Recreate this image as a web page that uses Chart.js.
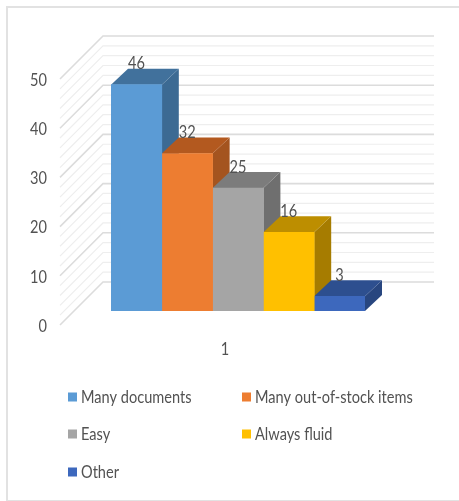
<!DOCTYPE html>
<html>
<head>
<meta charset="utf-8">
<style>
  html, body { margin: 0; padding: 0; background: #fff; overflow: hidden; }
  #wrap { position: relative; width: 459px; height: 501px; overflow: hidden; }
  #frame { position: absolute; left: 6px; top: 6px; width: 470px; height: 492px; border: 2px solid #e2e2e2; }
  canvas { position: absolute; left: 0; top: 0; }
</style>
<script src="https://cdn.jsdelivr.net/npm/chart.js@4"></script>
</head>
<body>
<div id="wrap">
  <div id="frame"></div>
  <canvas id="chart" width="459" height="501"></canvas>
</div>
<script>
const categories = ['1'];
const seriesNames = ['Many documents', 'Many out-of-stock items', 'Easy', 'Always fluid', 'Other'];
const seriesValues = [46, 32, 25, 16, 3];
const frontColors = ['#5b9bd5', '#ed7d31', '#a5a5a5', '#ffc000', '#3d68bd'];
const topColors = ['#41719c', '#b3591f', '#7c7c7c', '#bd8e00', '#2d4f8f'];
const sideColors = ['#3c6a93', '#a4541f', '#6f6f6f', '#a67c00', '#28467f'];

const FONT = 'Lato, "Open Sans", sans-serif';
const TEXT = '#525252';
const SQUEEZE = 0.81;                  // horizontal squeeze for all lettering
const PLOT_TOP = 65;                   // y of the value 50 on the column plane
const DEPTH_X = 17, DEPTH_Y = 16;      // bar extrusion
const WALL_X = 103, WALL_RIGHT = 434;  // back wall extent
const WALL_SHIFT = 29;                 // back wall sits this far above the bar plane
const SIDE_LEFT = 60, SIDE_DROP = 14;  // near end of the side wall

// Paints a scale's labels squeezed horizontally about a fixed x position.
function squeezeLabels(scale, originX) {
  if (scale._squeezed) return;
  scale._squeezed = true;
  const paint = scale.drawLabels;
  scale.drawLabels = function (area) {
    const ctx = scale.ctx;
    ctx.save();
    ctx.translate(originX, 0);
    ctx.scale(SQUEEZE, 1);
    ctx.translate(-originX, 0);
    paint.call(scale, area);
    ctx.restore();
  };
}

function narrowText(ctx, text, x, y) {
  ctx.save();
  ctx.translate(x, y);
  ctx.scale(SQUEEZE, 1);
  ctx.fillText(text, 0, 0);
  ctx.restore();
}

// Pins the top of the value axis and applies the label squeeze.
const axisPlugin = {
  id: 'axisFit',
  afterLayout(chart) {
    const { x, y } = chart.scales;
    y.top = PLOT_TOP;
    y.height = y.bottom - y.top;
    y.configure();
    chart.chartArea.top = PLOT_TOP;
    chart.chartArea.height = y.height;
    squeezeLabels(y, 47);
    squeezeLabels(x, 225);
  }
};

// Back wall and side wall rules, every 2 units with stronger lines every 10.
const wallPlugin = {
  id: 'wall',
  beforeDatasetsDraw(chart) {
    const { ctx, scales: { y } } = chart;
    ctx.save();
    for (let v = 0; v <= y.max; v += 2) {
      const py = y.getPixelForValue(v);
      const major = v % 10 === 0;
      ctx.strokeStyle = major ? '#dcdcdc' : '#eeeeee';
      ctx.lineWidth = major ? 1.6 : 1.2;
      ctx.beginPath();
      ctx.moveTo(SIDE_LEFT, py + SIDE_DROP);
      ctx.lineTo(WALL_X, py - WALL_SHIFT);
      ctx.lineTo(WALL_RIGHT, py - WALL_SHIFT);
      ctx.stroke();
    }
    ctx.restore();
  }
};

// Top and right faces of the columns, left to right, under all front faces.
const depthPlugin = {
  id: 'depth',
  beforeDatasetsDraw(chart) {
    const { ctx } = chart;
    ctx.save();
    chart.data.datasets.forEach((ds, i) => {
      const bar = chart.getDatasetMeta(i).data[0];
      const left = bar.x - bar.width / 2, right = bar.x + bar.width / 2;
      const top = bar.y, base = bar.base;
      ctx.fillStyle = sideColors[i];
      ctx.beginPath();
      ctx.moveTo(right, top);
      ctx.lineTo(right + DEPTH_X, top - DEPTH_Y);
      ctx.lineTo(right + DEPTH_X, base - DEPTH_Y);
      ctx.lineTo(right, base);
      ctx.closePath();
      ctx.fill();
      ctx.fillStyle = topColors[i];
      ctx.beginPath();
      ctx.moveTo(left, top);
      ctx.lineTo(left + DEPTH_X, top - DEPTH_Y);
      ctx.lineTo(right + DEPTH_X, top - DEPTH_Y);
      ctx.lineTo(right, top);
      ctx.closePath();
      ctx.fill();
    });
    ctx.restore();
  }
};

// Value captions above each column and the two-column key below the plot.
const captionPlugin = {
  id: 'captions',
  afterDatasetsDraw(chart) {
    const { ctx } = chart;
    ctx.save();
    ctx.fillStyle = TEXT;
    ctx.font = '18px ' + FONT;
    ctx.textAlign = 'center';
    ctx.textBaseline = 'middle';
    chart.data.datasets.forEach((ds, i) => {
      const bar = chart.getDatasetMeta(i).data[0];
      narrowText(ctx, String(ds.data[0]), bar.x, bar.y - 21);
    });
    const columns = [68, 242], rows = [397, 434, 472];
    ctx.textAlign = 'left';
    chart.data.datasets.forEach((ds, i) => {
      const x = columns[i % 2], y = rows[Math.floor(i / 2)];
      ctx.fillStyle = ds.backgroundColor;
      ctx.fillRect(x, y - 4.5, 9, 9);
      ctx.fillStyle = TEXT;
      narrowText(ctx, ds.label, x + 13, y);
    });
    ctx.restore();
  }
};

new Chart(document.getElementById('chart'), {
  type: 'bar',
  data: {
    labels: categories,
    datasets: seriesNames.map((name, i) => ({
      label: name,
      data: [seriesValues[i]],
      backgroundColor: frontColors[i],
      borderWidth: 0,
      barPercentage: 1,
      categoryPercentage: 1
    }))
  },
  options: {
    responsive: false,
    animation: false,
    layout: { autoPadding: false, padding: { left: 0, right: 94, top: 57, bottom: 140 } },
    plugins: { legend: { display: false }, title: { display: false }, tooltip: { enabled: false } },
    scales: {
      x: {
        grid: { display: false },
        border: { display: false },
        afterFit(scale) { scale.height = 50; },
        ticks: { color: TEXT, font: { family: FONT, size: 18 }, padding: 19, labelOffset: -13, maxRotation: 0 }
      },
      y: {
        min: 0,
        max: 50,
        grid: { display: false },
        border: { display: false },
        afterFit(scale) { scale.width = 111; },
        ticks: { stepSize: 10, color: TEXT, font: { family: FONT, size: 18 }, padding: 56, labelOffset: 15 }
      }
    }
  },
  plugins: [axisPlugin, wallPlugin, depthPlugin, captionPlugin]
});
</script>
</body>
</html>
